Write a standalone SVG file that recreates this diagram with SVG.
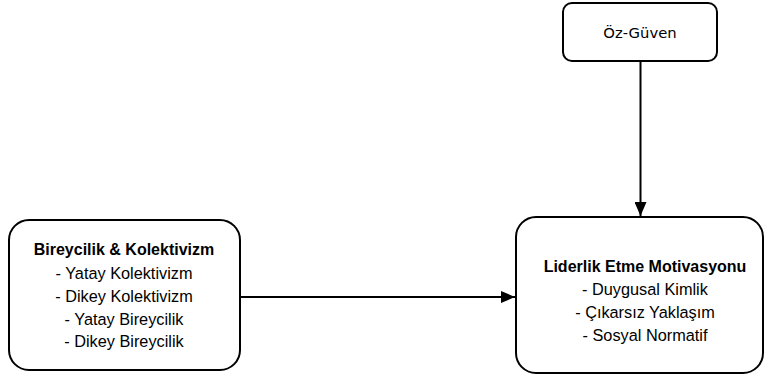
<svg xmlns="http://www.w3.org/2000/svg" width="766" height="383" viewBox="0 0 766 383">
<style>
.box{fill:#fff;stroke:#000;stroke-width:2}
.t{font-family:"Liberation Sans",Arial,sans-serif;font-size:16.3px;fill:#000;text-anchor:middle}
.b{font-weight:bold;font-size:16px}
.o{font-family:"DejaVu Sans",sans-serif;font-size:14.8px;fill:#000;text-anchor:middle}
.c{stroke:#000;stroke-width:2;fill:none}
</style>
<defs>
<marker id="ah" viewBox="0 0 14 12" refX="14" refY="6" markerWidth="14" markerHeight="12" markerUnits="userSpaceOnUse" orient="auto">
<path d="M0,0 L14,6 L0,12 Z" fill="#000"/>
</marker>
</defs>
<rect width="766" height="383" fill="#fff"/>
<g id="connectors">
<line class="c" x1="640.5" y1="61" x2="640.5" y2="216" marker-end="url(#ah)"/>
<line class="c" x1="240" y1="297" x2="515" y2="297" marker-end="url(#ah)"/>
</g>
<g id="ozguven">
<rect class="box" x="563" y="3" width="154" height="58" rx="9"/>
<text class="o" x="640" y="38">Öz-Güven</text>
</g>
<g id="bireycilik">
<rect class="box" x="9" y="220" width="231" height="150" rx="20"/>
<text class="t b" x="124" y="255">Bireycilik &amp; Kolektivizm</text>
<text class="t" x="124" y="279">- Yatay Kolektivizm</text>
<text class="t" x="124" y="302">- Dikey Kolektivizm</text>
<text class="t" x="124" y="325">- Yatay Bireycilik</text>
<text class="t" x="124" y="347">- Dikey Bireycilik</text>
</g>
<g id="liderlik">
<rect class="box" x="516" y="217" width="247" height="156" rx="20"/>
<text class="t b" x="645" y="272">Liderlik Etme Motivasyonu</text>
<text class="t" x="645" y="295">- Duygusal Kimlik</text>
<text class="t" x="645" y="318">- Çıkarsız Yaklaşım</text>
<text class="t" x="645" y="341">- Sosyal Normatif</text>
</g>
</svg>
